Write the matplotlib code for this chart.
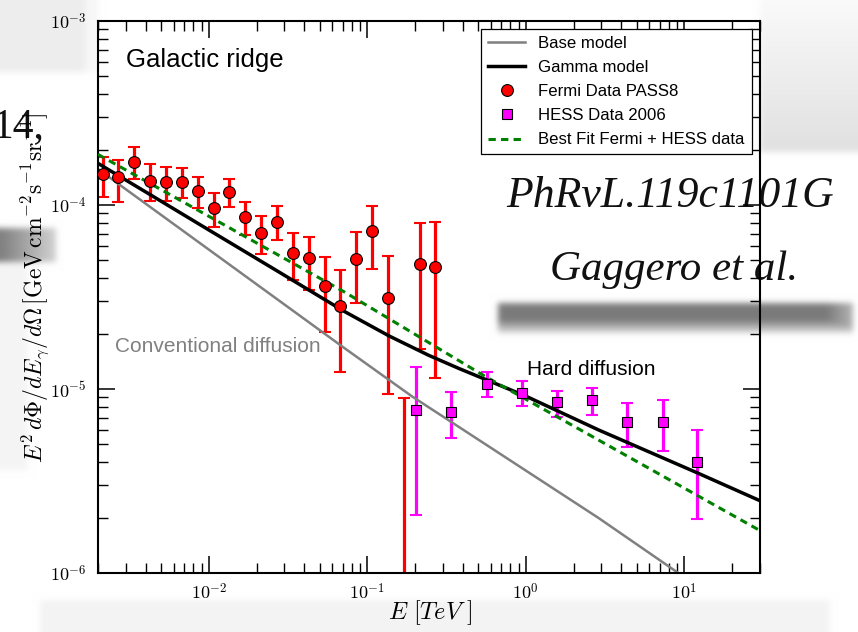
import numpy as np
import matplotlib
matplotlib.use("Agg")
import matplotlib.pyplot as plt
from matplotlib.ticker import FixedLocator, FuncFormatter, LogLocator, NullFormatter

plt.rcParams['font.family'] = ['Liberation Sans', 'DejaVu Sans']
plt.rcParams['mathtext.fontset'] = 'cm'

# ---------------- data (energies in TeV, E^2 dPhi/dE/dOmega in GeV cm^-2 s^-1 sr^-1)
fermi_E = [0.002138, 0.002692, 0.003388, 0.004266, 0.005370, 0.006761, 0.008511,
           0.01072, 0.01349, 0.01698, 0.02138, 0.02692, 0.03388, 0.04266, 0.05370,
           0.06761, 0.08511, 0.1072, 0.1349, 0.1698, 0.2138, 0.2692]
fermi_flux = [1.468e-4, 1.425e-4, 1.719e-4, 1.355e-4, 1.338e-4, 1.338e-4, 1.191e-4,
              9.59e-5, 1.176e-4, 8.60e-5, 7.07e-5, 8.13e-5, 5.51e-5, 5.12e-5, 3.63e-5,
              2.84e-5, 5.07e-5, 7.22e-5, 3.12e-5, 5.0e-7, 4.80e-5, 4.59e-5]
fermi_hi = [1.823e-4, 1.756e-4, 2.073e-4, 1.664e-4, 1.609e-4, 1.595e-4, 1.414e-4,
            1.158e-4, 1.379e-4, 1.042e-4, 8.71e-5, 9.88e-5, 7.07e-5, 6.72e-5, 5.20e-5,
            4.42e-5, 7.16e-5, 9.91e-5, 5.28e-5, 8.90e-6, 7.95e-5, 8.05e-5]
fermi_lo = [1.105e-4, 1.038e-4, 1.379e-4, 1.055e-4, 1.055e-4, 1.087e-4, 9.59e-5,
            7.62e-5, 9.71e-5, 6.91e-5, 5.42e-5, 6.49e-5, 3.91e-5, 3.46e-5, 2.04e-5,
            1.237e-5, 2.94e-5, 4.49e-5, 9.36e-6, 1.0e-7, 1.643e-5, 1.152e-5]

hess_E = [0.202, 0.339, 0.566, 0.944, 1.57, 2.61, 4.37, 7.28, 12.1]
hess_flux = [7.69e-6, 7.50e-6, 1.06e-5, 9.55e-6, 8.53e-6, 8.71e-6, 6.62e-6, 6.63e-6, 4.00e-6]
hess_hi = [1.32e-5, 9.67e-6, 1.23e-5, 1.10e-5, 9.79e-6, 1.01e-5, 8.43e-6, 8.68e-6, 5.99e-6]
hess_lo = [2.07e-6, 5.40e-6, 9.02e-6, 8.09e-6, 7.07e-6, 7.20e-6, 4.86e-6, 4.60e-6, 1.97e-6]

base_E = [0.002, 0.0716, 0.192, 2.877, 9.16, 30.0]
base_flux = [1.568e-4, 1.670e-5, 9.10e-6, 1.99e-6, 1.0e-6, 4.94e-7]

gamma_E = [0.002, 0.004256, 0.00944, 0.0280, 0.0716, 0.1374, 0.2452, 0.379, 0.558,
           0.9956, 2.877, 12.08, 30.0]
gamma_flux = [1.684e-4, 1.140e-4, 7.54e-5, 4.30e-5, 2.64e-5, 1.941e-5, 1.521e-5,
              1.292e-5, 1.126e-5, 9.16e-6, 5.99e-6, 3.50e-6, 2.47e-6]

bestfit_E = [0.002, 0.0716, 0.558, 30.0]
bestfit_flux = [1.883e-4, 3.37e-5, 1.166e-5, 1.70e-6]

x_major = [1e-2, 1e-1, 1e0, 1e1]
y_major = [1e-6, 1e-5, 1e-4, 1e-3]

W, H = 858, 632
fig = plt.figure(figsize=(W / 100, H / 100), dpi=100)
fig.patch.set_facecolor('white')


# ---------------- paper-collage backdrop
def blur(img, sigma):
    r = int(3 * sigma)
    k = np.exp(-0.5 * (np.arange(-r, r + 1) / sigma) ** 2)
    k /= k.sum()
    p = np.pad(img, r, mode='edge')
    p = np.apply_along_axis(lambda v: np.convolve(v, k, mode='valid'), 1, p)
    p = np.apply_along_axis(lambda v: np.convolve(v, k, mode='valid'), 0, p)
    return p


g = np.ones((H, W))
g[0:72, 0:85] = 0.93
g[0:72, 85:98] = 0.97
g[228:262, 0:56] = np.linspace(0.50, 0.82, 56)[None, :]
g[262:470, 0:28] = 0.96
g[0:152, 760:W] = np.linspace(0.98, 0.88, 152)[:, None]
smudge = np.ones((30, 355))
smudge[:18, :] = 0.48
smudge[18:, :] = np.linspace(0.55, 0.85, 12)[:, None]
smudge[:, 330:] = np.maximum(smudge[:, 330:], np.linspace(0.5, 0.7, 25)[None, :])
g[303:333, 498:853] = smudge
g[600:H, 40:830] = 0.955
g = blur(g, 3.0)
g = np.clip(g, 0, 1)
fig.figimage(np.dstack([g, g, g]), xo=0, yo=0, origin='upper', zorder=-3)


def fx(px):
    return px / W


def fy(py):
    return 1 - py / H


fig.text(fx(506), fy(207), 'PhRvL.119c1101G', fontsize=31.5, style='italic',
         family='Liberation Serif', color='#111111', zorder=-1)
fig.text(fx(550), fy(280), 'Gaggero et al.', fontsize=31, style='italic',
         family='Liberation Serif', color='#111111', zorder=-1)
fig.text(fx(44), fy(137), '14,', fontsize=30, family='Liberation Serif',
         ha='right', va='baseline', color='#111111', zorder=-1)

# ---------------- main axes
ax = fig.add_axes([fx(98), fy(573), 662 / W, 552 / H])
ax.set_facecolor('none')
ax.set_xscale('log')
ax.set_yscale('log')

ax.plot(base_E, base_flux, color='#808080', lw=1.8, label='Base model', zorder=2.5)
ax.plot(gamma_E, gamma_flux, color='black', lw=2.5, label='Gamma model', zorder=2.6)

fe = np.array(fermi_flux)
ax.errorbar(fermi_E, fermi_flux,
            yerr=[fe - np.array(fermi_lo), np.array(fermi_hi) - fe],
            fmt='none', ecolor='red', elinewidth=2.3, capsize=4.5, capthick=1.5, zorder=2)
ax.plot(fermi_E, fermi_flux, 'o', ms=8.5, mfc='red', mec='black', mew=0.8,
        label='Fermi Data PASS8', zorder=4)

he = np.array(hess_flux)
ax.errorbar(hess_E, hess_flux,
            yerr=[he - np.array(hess_lo), np.array(hess_hi) - he],
            fmt='none', ecolor='magenta', elinewidth=2.3, capsize=4.5, capthick=1.5, zorder=2)
ax.plot(hess_E, hess_flux, 's', ms=7.8, mfc='magenta', mec='black', mew=0.8,
        label='HESS Data 2006', zorder=4)

ax.plot(bestfit_E, bestfit_flux, color='green', lw=2.2, ls=(0, (2.4, 1.7)),
        label='Best Fit Fermi + HESS data', zorder=2.7)

ax.set_xlim(0.002, 30)
ax.set_ylim(1e-6, 1e-3)

fmt = FuncFormatter(lambda v, p: r'$10^{%d}$' % int(round(np.log10(v))))
ax.xaxis.set_major_locator(FixedLocator(x_major))
ax.yaxis.set_major_locator(FixedLocator(y_major))
ax.xaxis.set_major_formatter(fmt)
ax.yaxis.set_major_formatter(fmt)
ax.xaxis.set_minor_locator(LogLocator(base=10, subs=np.arange(2, 10), numticks=20))
ax.yaxis.set_minor_locator(LogLocator(base=10, subs=np.arange(2, 10), numticks=20))
ax.xaxis.set_minor_formatter(NullFormatter())
ax.yaxis.set_minor_formatter(NullFormatter())
ax.tick_params(which='both', direction='in', top=True, right=True)
ax.tick_params(which='major', length=12, width=1.1, labelsize=13)
ax.tick_params(which='minor', length=7.5, width=1.0)
ax.tick_params(axis='x', which='major', pad=7)
ax.tick_params(axis='y', which='major', pad=8)
for s in ax.spines.values():
    s.set_linewidth(1.5)

ax.text(0.0423, 0.9167, 'Galactic ridge', transform=ax.transAxes, fontsize=18.5,
        va='baseline', ha='left')
ax.text(0.0257, 0.4009, 'Conventional diffusion', transform=ax.transAxes, fontsize=15,
        va='baseline', ha='left', color='#808080')
ax.text(0.648, 0.3587, 'Hard diffusion', transform=ax.transAxes, fontsize=15,
        va='baseline', ha='left')

leg = ax.legend(loc='upper right', fontsize=12.1, frameon=True, fancybox=False,
                edgecolor='black', framealpha=1, borderaxespad=0.5, labelspacing=0.54,
                handlelength=2.2, handletextpad=0.8, borderpad=0.4, numpoints=1)
leg.get_frame().set_linewidth(0.9)

fig.text(fx(35), fy(288),
         r'$E^2\,d\Phi/dE_\gamma/d\Omega\,[\mathrm{GeV\,cm^{-2}s^{-1}sr^{-1}}]$',
         rotation=90, ha='center', va='center', fontsize=17)
fig.text(fx(430), fy(613), r'$E\ [TeV\ ]$', ha='center', va='center', fontsize=17.5)

fig.savefig('out.png', dpi=100)
